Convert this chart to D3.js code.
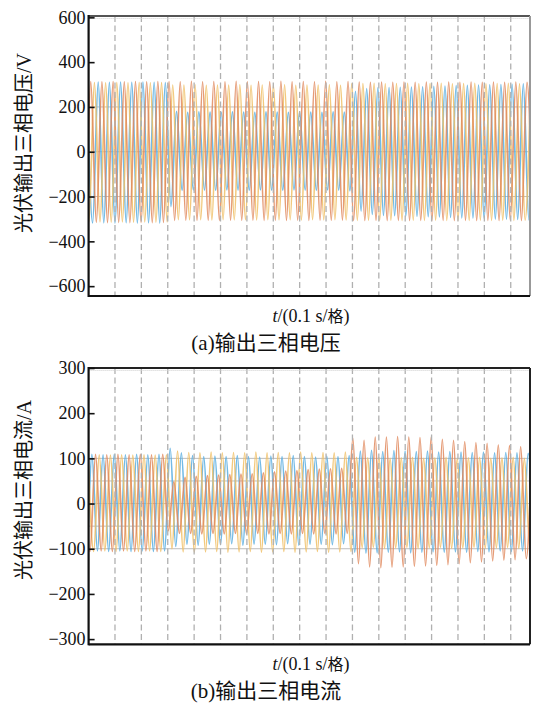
<!DOCTYPE html>
<html>
<head>
<meta charset="utf-8">
<script src="https://cdn.jsdelivr.net/npm/d3@7/dist/d3.min.js"></script>
<style>
  body { margin: 0; background: #fff; }
</style>
</head>
<body>
<div id="chart"></div>
<script>
// time axis, 0.1 s per division
const tEnd = 1.673;
const halfPeriod = 0.0212;
const gridTimes = [0.1, 0.2, 0.3, 0.4, 0.5, 0.6, 0.7, 0.8, 0.9, 1.0, 1.1, 1.2, 1.3, 1.4, 1.5, 1.6];

// (a) voltage
const voltTicks = [-600, -400, -200, 0, 200, 400, 600];
const voltGrid = [-200, 0, 200];
const voltStart = [-0.006, -0.0343, -0.0203]; // time of first extremum, phase a/b/c
const voltA = [310,-318,311,-317,310,-318,311,-317,310,-318,311,-317,310,-318,309,
  -245,180,-172,176,-170,178,-171,177,-172,176,-170,178,-171,177,-172,176,-170,178,-171,177,-172,176,-170,178,-171,177,-172,176,-170,178,-171,177,-175,
  270,-265,282,-280,285,-284,286,-285,288,-287,289,-288,290,-290,292,-291,293,-293,295,-295,296,-296,298,-298,299,-300,300,-301,301,-302,303,-304,305];
const voltB = [312,-316,313,-315,312,-316,313,-315,312,-316,313,-315,312,-316,313,-315,
  313,-306,312,-305,314,-306,312,-305,313,-306,312,-305,314,-306,312,-305,313,-306,312,-305,314,-306,312,-305,313,-306,312,-305,314,-306,312,-305,313,
  -306,311,-307,310,-306,311,-307,310,-306,311,-307,310,-306,311,-307,310,-306,311,-307,310,-306,311,-307,310,-306,311,-307,310,-306,311,-307,310,-306];
const voltC = [308,-314,309,-313,308,-314,309,-313,308,-314,309,-313,308,-314,309,-313,
  298,-303,297,-304,299,-303,296,-304,298,-303,297,-304,299,-303,296,-304,298,-303,297,-304,299,-303,296,-304,298,-303,297,-304,299,-303,296,-304,
  303,-306,304,-305,305,-306,303,-305,304,-306,305,-305,303,-306,304,-305,305,-306,303,-305,304,-306,305,-305,303,-306,304,-305,305,-306,303,-305,306];

// (b) current
const currTicks = [-300, -200, -100, 0, 100, 200, 300];
const currGrid = [-100, -50, 0, 50, 100];
const currStart = [-0.030, -0.016, -0.002];
const currA = [108,-106,109,-105,108,-106,109,-105,108,-106,109,-105,108,-106,109,-105,
  122,-95,112,-90,106,-92,104,-90,105,-91,104,-89,106,-92,104,-90,103,-90,105,-91,104,-89,106,-92,104,-90,103,-90,105,-91,104,-89,106,
  -108,116,-110,118,-109,115,-108,117,-107,116,-109,115,-108,116,-107,114,-108,115,-107,114,-108,113,-106,114,-107,112,-105,113,-106,112,-105,111,-106];
const currB = [108,-106,109,-105,108,-106,109,-105,108,-106,109,-105,108,-106,109,
  -60,48,-66,58,-66,60,-67,62,-66,63,-67,64,-66,65,-67,66,-66,68,-67,70,-66,72,-67,73,-66,75,-67,76,-66,77,-67,78,-66,
  145,-133,140,-140,147,-142,147,-141,148,-140,147,-139,146,-138,147,-137,142,-135,140,-133,137,-131,135,-129,133,-127,130,-125,128,-124,126,-122,125];
const currC = [107,-106,108,-105,107,-106,108,-105,107,-106,108,-105,107,-106,108,
  -100,116,-107,113,-108,112,-107,114,-106,112,-108,113,-107,112,-106,114,-108,112,-107,113,-106,112,-108,114,-107,112,-106,113,-108,112,-107,114,-106,
  102,-98,101,-97,102,-99,100,-98,101,-97,102,-99,100,-98,101,-97,102,-99,100,-98,101,-97,102,-99,100,-98,101,-97,102,-99,100,-98,101];

const W = 535, H = 708;
const blue = "#5aaee0", orange = "#e08a5e", yellow = "#f0c066";

const svg = d3.select("#chart").append("svg")
  .attr("width", W).attr("height", H)
  .style("font-family", "'Liberation Serif', 'Times New Roman', serif");

const x = d3.scaleLinear().domain([0, tEnd]).range([88.6, 530]);

function drawPanel(id, top, bottom, domain, ticks, grid, starts, series, yTitle, unit, caption, captionText, titleY) {
  const y = d3.scaleLinear().domain(domain).range([bottom, top]);
  const g = svg.append("g");

  g.append("clipPath").attr("id", "clip" + id)
    .append("rect").attr("x", x.range()[0]).attr("y", top)
    .attr("width", x.range()[1] - x.range()[0]).attr("height", bottom - top);

  // horizontal grid
  g.selectAll(".hg").data(grid).enter().append("line")
    .attr("x1", x.range()[0]).attr("x2", x.range()[1])
    .attr("y1", d => y(d)).attr("y2", d => y(d))
    .style("stroke", "#bdbdbd").style("stroke-width", 1);

  // waveforms
  const line = d3.line()
    .x(d => x(d[0])).y(d => y(d[1]))
    .curve(d3.curveMonotoneX);
  const order = [0, 2, 1];
  const cols = [blue, orange, yellow];
  order.forEach(k => {
    const pts = series[k].map((v, i) => [starts[k] + i * halfPeriod, v]);
    g.append("path")
      .attr("clip-path", "url(#clip" + id + ")")
      .attr("d", line(pts))
      .style("fill", "none")
      .style("stroke", cols[k])
      .style("stroke-width", 1.7)
      .style("stroke-opacity", 0.85);
  });

  // dashed vertical grid
  g.selectAll(".vg").data(gridTimes).enter().append("line")
    .attr("x1", d => x(d)).attr("x2", d => x(d))
    .attr("y1", top).attr("y2", bottom)
    .style("stroke", "#b0b0b0").style("stroke-width", 1.3)
    .style("stroke-dasharray", "6,3.5");

  g.append("line")
    .attr("x1", x.range()[0]).attr("x2", x.range()[1])
    .attr("y1", top + 2.5).attr("y2", top + 2.5)
    .style("stroke", "#d0d0d0").style("stroke-width", 1)
    .style("stroke-dasharray", "1,1");

  // frame
  g.append("line").attr("x1", x.range()[0]).attr("x2", x.range()[1]).attr("y1", top).attr("y2", top)
    .style("stroke", id === "a" ? "#555" : "#222").style("stroke-width", 2);
  g.append("line").attr("x1", x.range()[1]).attr("x2", x.range()[1]).attr("y1", top).attr("y2", bottom)
    .style("stroke", id === "a" ? "#999" : "#222").style("stroke-width", 2);
  g.append("line").attr("x1", x.range()[0]).attr("x2", x.range()[1]).attr("y1", bottom).attr("y2", bottom)
    .style("stroke", "#111").style("stroke-width", 2.2);

  const axis = d3.axisLeft(y).tickValues(ticks).tickSize(-6).tickPadding(4)
    .tickFormat(d3.format("d"));
  const ag = g.append("g").attr("transform", "translate(" + x.range()[0] + ",0)").call(axis);
  ag.select(".domain").remove();
  ag.append("line").attr("y1", top - 1).attr("y2", bottom + 1)
    .style("stroke", "#111").style("stroke-width", 2.2);
  ag.selectAll(".tick line").style("stroke", "#111").style("stroke-width", 1.6);
  ag.selectAll(".tick text")
    .style("font-family", "'Liberation Serif', serif")
    .style("font-size", "18px").style("fill", "#111")
    .attr("x", -3);

  // y title
  const t = g.append("text")
    .attr("transform", "translate(31," + titleY + ") rotate(-90)")
    .attr("text-anchor", "middle")
    .style("font-size", "20px").style("fill", "#111");
  t.append("tspan").style("font-family", "'Noto Sans CJK SC', sans-serif").text(yTitle);
  t.append("tspan").text("/" + unit);

  // x label
  const xl = g.append("text")
    .attr("x", 311).attr("y", bottom + 26)
    .attr("text-anchor", "middle")
    .style("font-size", "18px").style("fill", "#111");
  xl.append("tspan").style("font-style", "italic").text("t");
  xl.append("tspan").text("/(0.1 s/");
  xl.append("tspan").style("font-family", "'Noto Sans CJK SC', sans-serif").style("font-size", "16px").text("格");
  xl.append("tspan").text(")");

  // caption
  const c = g.append("text")
    .attr("x", 266).attr("y", bottom + 54)
    .attr("text-anchor", "middle")
    .style("font-size", "21px").style("fill", "#111");
  c.append("tspan").text(caption);
  c.append("tspan").style("font-family", "'Noto Sans CJK SC', sans-serif").text(captionText);
}

drawPanel("a", 16, 296, [-644, 606], voltTicks, voltGrid, voltStart, [voltA, voltB, voltC],
  "光伏输出三相电压", "V", "(a)", "输出三相电压", 143);
drawPanel("b", 368, 644.3, [-311.5, 300], currTicks, currGrid, currStart, [currA, currB, currC],
  "光伏输出三相电流", "A", "(b)", "输出三相电流", 490);
</script>
</body>
</html>
